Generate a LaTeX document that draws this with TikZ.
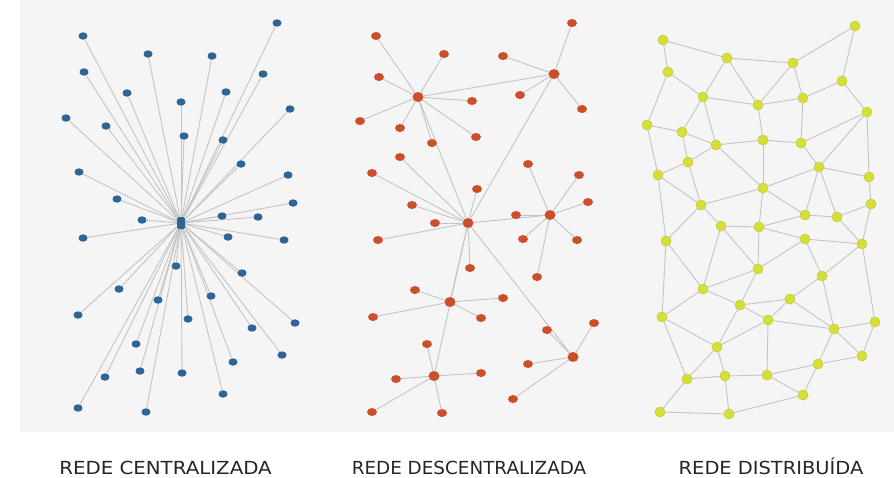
\documentclass[tikz,border=0pt]{standalone}
\usepackage{fontspec}
\setmainfont{DejaVu Sans}
\usetikzlibrary{shapes.geometric}
\pgfdeclarelayer{bg}
\pgfdeclarelayer{edges}
\pgfsetlayers{bg,edges,main}
\definecolor{bgray}{HTML}{F5F5F5}
\definecolor{edgec}{HTML}{C4C4C4}
\definecolor{nblue}{HTML}{2F6594}
\definecolor{nred}{HTML}{CC4F2C}
\definecolor{nyel}{HTML}{D6DE3A}
\definecolor{nyeld}{HTML}{C4CC32}
\definecolor{txt}{HTML}{262626}
\tikzset{
  edge/.style={draw=edgec, line width=0.9pt},
  bl/.style={ellipse, fill=nblue, minimum width=9pt, minimum height=7.5pt, inner sep=0pt},
  bhub/.style={rectangle, rounded corners=1.5pt, fill=nblue, minimum width=8pt, minimum height=12pt, inner sep=0pt},
  rd/.style={ellipse, fill=nred, minimum width=10pt, minimum height=8pt, inner sep=0pt},
  rhub/.style={ellipse, fill=nred, minimum width=11pt, minimum height=10pt, inner sep=0pt},
  yl/.style={circle, fill=nyel, draw=nyeld, line width=0.6pt, minimum size=10pt, inner sep=0pt},
  lab/.style={text=txt, font=\fontsize{18}{20}\selectfont, inner sep=0pt, anchor=base}
}
\begin{document}
\begin{tikzpicture}[x=1pt,y=-1pt]
\useasboundingbox (0,0) rectangle (894,477);
\begin{pgfonlayer}{bg}
\fill[white] (0,0) rectangle (894,477);
\fill[bgray] (20,0) rectangle (894,432);
\end{pgfonlayer}

% ---------------- centralized ----------------
\node[bhub] (b0) at (181,223) {};
\foreach \n/\x/\y in {1/83/36,2/277/23,3/148/54,4/212/56,5/84/72,6/263/74,7/127/93,8/226/92,
  9/181/102,10/66/118,11/290/109,12/106/126,13/184/136,14/223/140,15/79/172,16/241/164,
  17/288/175,18/117/199,19/293/203,20/222/216,21/258/217,22/142/220,23/83/238,24/228/237,
  25/284/240,26/176/266,27/242/273,28/119/289,29/158/300,30/211/296,31/78/315,32/188/319,
  33/295/323,34/252/328,35/136/344,36/282/355,37/105/377,38/140/371,39/182/373,40/233/362,
  41/223/394,42/78/408,43/146/412}
  {\node[bl] (b\n) at (\x,\y) {};}
\begin{pgfonlayer}{edges}
\foreach \n in {1,...,43} {\draw[edge] (b0) -- (b\n);}
\end{pgfonlayer}

% ---------------- decentralized ----------------
\node[rhub] (rA) at (418,97) {};
\node[rhub] (rB) at (554,74) {};
\node[rhub] (rC) at (468,223) {};
\node[rhub] (rD) at (550,215) {};
\node[rhub] (rE) at (450,302) {};
\node[rhub] (rF) at (573,357) {};
\node[rhub] (rG) at (434,376) {};
\foreach \n/\x/\y in {1/376/36,2/444/54,3/379/77,4/472/101,5/360/121,6/400/128,7/476/137,8/432/143}
  {\node[rd] (ra\n) at (\x,\y) {};}
\foreach \n/\x/\y in {1/572/23,2/503/56,3/520/95,4/582/109}
  {\node[rd] (rb\n) at (\x,\y) {};}
\foreach \n/\x/\y in {1/400/157,2/372/173,3/477/189,4/412/205,5/435/223,6/378/240,7/470/268}
  {\node[rd] (rc\n) at (\x,\y) {};}
\foreach \n/\x/\y in {1/528/164,2/579/175,3/588/202,4/516/215,5/523/239,6/577/240,7/537/277}
  {\node[rd] (rd\n) at (\x,\y) {};}
\foreach \n/\x/\y in {1/415/290,2/503/298,3/373/317,4/481/318}
  {\node[rd] (re\n) at (\x,\y) {};}
\foreach \n/\x/\y in {1/547/330,2/594/323,3/528/364,4/513/399}
  {\node[rd] (rf\n) at (\x,\y) {};}
\foreach \n/\x/\y in {1/427/344,2/396/379,3/481/373,4/372/412,5/442/413}
  {\node[rd] (rg\n) at (\x,\y) {};}
\begin{pgfonlayer}{edges}
\foreach \n in {1,...,8} {\draw[edge] (rA) -- (ra\n);}
\foreach \n in {1,...,4} {\draw[edge] (rB) -- (rb\n);}
\foreach \n in {1,...,7} {\draw[edge] (rC) -- (rc\n);}
\foreach \n in {1,...,7} {\draw[edge] (rD) -- (rd\n);}
\foreach \n in {1,...,4} {\draw[edge] (rE) -- (re\n);}
\foreach \n in {1,...,4} {\draw[edge] (rF) -- (rf\n);}
\foreach \n in {1,...,5} {\draw[edge] (rG) -- (rg\n);}
\foreach \a/\b in {rA/rB,rA/rC,rB/rC,rC/rD,rC/rE,rC/rF,rC/rG}
  {\draw[edge] (\a) -- (\b);}
\end{pgfonlayer}

% ---------------- distributed ----------------
\foreach \n/\x/\y in {1/855/26,2/663/40,3/727/58,4/793/63,5/668/72,6/842/81,7/703/97,8/758/105,
  9/803/98,10/867/112,11/647/125,12/682/132,13/716/145,14/763/140,15/801/143,16/688/162,
  17/819/167,18/658/175,19/869/177,20/763/188,21/701/205,22/871/204,23/805/215,24/837/217,
  25/721/226,26/759/227,27/666/241,28/805/239,29/862/244,30/758/269,31/822/276,32/703/289,
  33/790/299,34/740/305,35/662/317,36/768/320,37/834/329,38/875/322,39/717/347,40/862/356,
  41/818/364,42/687/379,43/725/376,44/767/375,45/803/395,46/660/412,47/729/414}
  {\node[yl] (y\n) at (\x,\y) {};}
\begin{pgfonlayer}{edges}
\foreach \a/\b in {2/3,3/4,4/1,1/6,2/5,5/7,3/7,3/8,4/8,4/9,7/8,8/9,9/6,6/10,5/11,7/12,7/13,
  11/12,12/13,8/14,13/14,14/15,9/15,15/10,15/17,10/17,10/19,11/18,12/16,13/16,16/18,13/20,
  14/20,20/17,17/19,18/21,16/21,20/21,19/22,17/23,17/24,20/23,22/24,18/27,21/27,21/25,25/26,
  20/26,26/23,23/24,26/28,24/29,22/29,28/29,28/30,26/30,25/30,25/32,27/32,28/31,29/31,30/32,
  30/34,32/34,32/35,27/35,31/33,33/34,33/36,34/36,33/37,31/37,36/37,37/38,29/38,37/40,38/40,
  37/41,40/41,35/39,34/39,36/39,35/42,39/42,39/43,42/43,36/44,43/44,44/41,44/45,41/45,42/46,
  43/47,46/47,47/45}
  {\draw[edge] (y\a) -- (y\b);}
\end{pgfonlayer}

% ---------------- labels ----------------
\node[lab] (l1) at (165.5,474) {\scalebox{1.1}[1]{REDE CENTRALIZADA}};
\node[lab] (l2) at (469,474) {\scalebox{1.02}[1]{REDE DESCENTRALIZADA}};
\node[lab] (l3) at (771,474) {\scalebox{1.08}[1]{REDE DISTRIBUÍDA}};
\end{tikzpicture}
\end{document}
